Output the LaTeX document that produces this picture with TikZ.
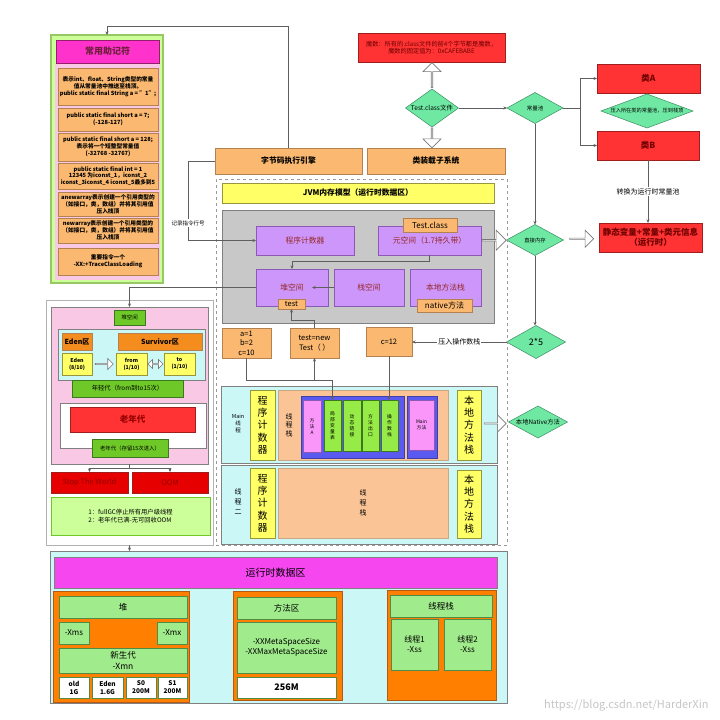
\documentclass[tikz,border=0pt]{standalone}
\usepackage{fontspec}
\setmainfont{Noto Sans CJK SC}
\usetikzlibrary{shapes.geometric,shapes.arrows,calc,arrows.meta}
\definecolor{orgL}{RGB}{250,184,112}
\definecolor{orgB}{RGB}{180,130,80}
\definecolor{redF}{RGB}{255,51,51}
\definecolor{redB}{RGB}{160,30,30}
\definecolor{redT}{RGB}{110,0,0}
\definecolor{diaF}{RGB}{110,232,162}
\definecolor{diaB}{RGB}{60,140,100}
\definecolor{purp}{RGB}{205,150,250}
\definecolor{purpB}{RGB}{140,90,180}
\definecolor{purpT}{RGB}{150,40,40}
\definecolor{grayF}{RGB}{200,200,200}
\definecolor{yel}{RGB}{255,255,102}
\definecolor{yelB}{RGB}{150,150,60}
\definecolor{magH}{RGB}{255,51,204}
\definecolor{magB}{RGB}{150,30,110}
\definecolor{titleT}{RGB}{110,30,60}
\definecolor{pinkL}{RGB}{248,200,228}
\definecolor{lgreen}{RGB}{204,255,153}
\definecolor{lgB}{RGB}{150,200,100}
\definecolor{cyanL}{RGB}{204,247,247}
\definecolor{peach}{RGB}{250,196,150}
\definecolor{blueM}{RGB}{90,90,240}
\definecolor{pinkM}{RGB}{250,150,250}
\definecolor{limeG}{RGB}{150,235,70}
\definecolor{orgS}{RGB}{245,140,30}
\definecolor{midG}{RGB}{110,200,40}
\definecolor{midGB}{RGB}{60,120,30}
\definecolor{orgD}{RGB}{255,128,0}
\definecolor{orgDB}{RGB}{180,90,20}
\definecolor{lgreen2}{RGB}{160,235,140}
\definecolor{lg2B}{RGB}{80,140,70}
\definecolor{magR}{RGB}{245,70,240}
\definecolor{lineC}{RGB}{95,95,95}
\definecolor{arrB}{RGB}{120,120,120}
\definecolor{stwF}{RGB}{230,0,0}
\definecolor{stwT}{RGB}{150,0,0}
\newcommand\fs[2]{\fontsize{#1}{#2}\selectfont}
\newcommand\mybox[7]{\node[bx,#2,minimum width=#5pt-#3pt,minimum height=#6pt-#4pt] (#1) at (#3,#4) {#7};}
\tikzset{
 bx/.style={draw, inner sep=0pt, outer sep=0pt, align=center, anchor=north west, line width=0.5pt},
 org/.style={fill=orgL, draw=orgB},
 redbox/.style={fill=redF, draw=redB, text=redT},
 purbox/.style={fill=purp, draw=purpB, text=purpT, font=\fs{7.8}{9}},
 yelbox/.style={fill=yel, draw=yelB},
 greenlab/.style={fill=midG, draw=midGB},
 g2/.style={fill=lgreen2, draw=lg2B},
 dia/.style={diamond, draw=diaB, fill=diaF, inner sep=0pt, outer sep=0pt, line width=0.5pt},
 con/.style={draw=lineC, line width=0.6pt, -{Stealth[length=3.5pt,width=3pt]}},
 barrow/.style={single arrow, draw=arrB, fill=white, inner sep=0pt, line width=0.6pt, single arrow head extend=3.5pt},
 dbarrow/.style={double arrow, draw=arrB, fill=white, inner sep=0pt, line width=0.6pt, double arrow head extend=2pt},
 lbl/.style={fill=white, inner sep=1pt},
 vt/.style={align=center, inner sep=0pt},
}
\begin{document}
\begin{tikzpicture}[x=1pt,y=-1pt]
\useasboundingbox (0,0) rectangle (720,720);
\fill[white] (0,0) rectangle (720,720);

% ---------- left column: mnemonics ----------
\mybox{mnOuter}{fill=lgreen, draw=lgB, line width=1.2pt}{51}{35}{163}{283}{}
\mybox{mnPink}{fill=pinkL, draw=none}{55}{64}{160}{280}{}
\mybox{mnHead}{fill=magH, draw=magB, text=titleT, font=\fs{9}{10}\bfseries}{56}{40}{159}{63}{常用助记符}
\begin{scope}[every node/.append style={font=\fs{5.7}{6.9}\bfseries}]
\mybox{m1}{org}{58}{68}{158}{105}{表示int、float、String类型的常量\\值从常量池中推送至栈顶。\\public static final String a = "1";}
\mybox{m2}{org}{58}{108}{158}{131}{public static final short a = 7;\\(-128-127)}
\mybox{m3}{org}{58}{133}{158}{161}{public static final short a = 128;\\表示将一个短整型常量值\\(-32768 -32767)}
\mybox{m4}{org}{58}{163}{158}{189}{public static final int = 1\\12345 为iconst\_1，iconst\_2\\iconst\_3iconst\_4 iconst\_5最多到5}
\mybox{m5}{org}{58}{192}{158}{216}{anewarray表示创建一个引用类型的\\（如接口，类，数组）并将其引用值\\压入栈顶}
\mybox{m6}{org}{58}{218}{158}{243}{newarray表示创建一个引用类型的\\（如接口，类，数组）并将其引用值\\压入栈顶}
\mybox{m7}{org}{58}{248}{158}{275}{重要指令一个\\-XX:+TraceClassLoading}
\end{scope}

% ---------- top: class file ----------
\mybox{magic}{redbox, font=\fs{6.2}{7.5}}{358}{33}{505}{62}{魔数：所有的.class文件的前4个字节都是魔数，\\魔数的固定值为：0xCAFEBABE}
\node[dia, minimum width=53pt, minimum height=38pt, label={center:{\fs{6.5}{7}Test.class文件}}] (tc) at (432,108) {};
\mybox{eng}{org, font=\fs{7.8}{9}\bfseries}{215}{148}{362}{174}{字节码执行引擎}
\mybox{loader}{org, font=\fs{7.8}{9}\bfseries}{367}{148}{505}{174}{类装载子系统}
\node[dia, minimum width=56pt, minimum height=31pt, label={center:{\fs{5.5}{6}常量池}}] (cp) at (535,108) {};
\mybox{A}{redbox, font=\fs{8.5}{10}\bfseries}{597}{64}{700}{93}{类A}
\node[dia, minimum width=92pt, minimum height=34pt, label={center:{\fs{5.2}{6}压入所在类的常量池，压到栈顶}}] (pushd) at (647,111) {};
\mybox{B}{redbox, font=\fs{8.5}{10}\bfseries}{597}{131}{699}{160}{类B}
\mybox{st}{redbox, font=\fs{8.5}{10.5}\bfseries}{599}{223}{702}{252}{静态变量+常量+类元信息\\（运行时）}
\node[dia, minimum width=57pt, minimum height=31pt, label={center:{\fs{5.3}{6}直接内存}}] (dm) at (535,240) {};
\node[dia, minimum width=59pt, minimum height=33pt, label={center:{\fs{9}{10}2*5}}] (d25) at (536,342) {};
\node[dia, minimum width=59pt, minimum height=32pt, label={center:{\fs{6.3}{7}本地Native方法}}] (nd) at (538,422) {};

% ---------- JVM memory model ----------
\mybox{jvm}{draw=gray!80, dashed, fill=none}{216}{179}{507}{545}{}
\mybox{jvmT}{yelbox, font=\fs{7.8}{9}\bfseries}{222}{183}{494}{203}{JVM内存模型（运行时数据区）}
\mybox{gbox}{fill=grayF, draw=gray}{222}{210}{494}{323}{}
\mybox{pc}{purbox}{256}{226}{354}{255}{程序计数器}
\mybox{meta}{purbox}{378}{226}{481}{255}{元空间（1.7持久带）}
\mybox{tcl}{org, font=\fs{8}{9}}{403}{218}{457}{232}{Test.class}
\mybox{heapS}{purbox}{256}{269}{328}{306}{堆空间}
\mybox{testL}{org, font=\fs{7.5}{8}}{278}{299}{305}{309}{test}
\mybox{stackS}{purbox}{334}{269}{404}{306}{栈空间}
\mybox{natS}{purbox}{410}{269}{481}{306}{本地方法栈}
\mybox{natL}{org, font=\fs{8}{9}}{417}{299}{472}{312}{native方法}
\mybox{ab}{org, font=\fs{7.5}{9.5}}{222}{328}{271}{358}{a=1\\b=2\\c=10}
\mybox{tn}{org, font=\fs{7.5}{9.5}}{290}{328}{339}{358}{test=new\\Test（ ）}
\mybox{c12}{org, font=\fs{7.5}{9}}{366}{327}{412}{356}{c=12}

% main thread
\mybox{mt}{fill=cyanL, draw=gray}{221}{386}{497}{463}{}
\node[vt, font=\fs{5.5}{7}] (mtL) at (238,424) {Main\\线\\程};
\mybox{mpc}{yelbox, font=\fs{10}{12.3}}{250}{390}{275}{460}{程\\序\\计\\数\\器}
\mybox{mts}{fill=peach, draw=orgB!70}{278}{390}{448}{460}{}
\node[vt, font=\fs{7}{8.6}] (mtsL) at (289,425) {线\\程\\栈};
\mybox{mblue}{fill=blueM, draw=blueM!70!black}{301}{396}{404}{458}{}
\begin{scope}[every node/.append style={font=\fs{4.8}{6}}]
\mybox{fA}{fill=pinkM, draw=purpB}{303}{400}{321}{452}{方\\法\\A}
\mybox{lv}{fill=limeG, draw=midGB}{324}{400}{341}{451}{局\\部\\变\\量\\表}
\mybox{dl}{fill=limeG, draw=midGB}{343}{400}{361}{451}{动\\态\\链\\接}
\mybox{mo}{fill=limeG, draw=midGB}{362}{400}{379}{451}{方\\法\\出\\口}
\mybox{ops}{fill=limeG, draw=midGB}{381}{400}{398}{451}{操\\作\\数\\栈}
\mybox{mblue2}{fill=blueM, draw=blueM!70!black}{407}{396}{437}{458}{}
\mybox{mm}{fill=pinkM, draw=purpB}{409}{400}{434}{450}{Main\\方法}
\end{scope}
\mybox{mnat}{yelbox, font=\fs{10}{12.3}}{457}{390}{481}{460}{本\\地\\方\\法\\栈}

% thread 2
\mybox{t2}{fill=cyanL, draw=gray}{221}{465}{497}{544}{}
\node[vt, font=\fs{7}{10}] (t2L) at (238,502) {线\\程\\二};
\mybox{t2pc}{yelbox, font=\fs{10}{12.3}}{250}{468}{275}{538}{程\\序\\计\\数\\器}
\mybox{t2s}{fill=peach, draw=orgB!70, font=\fs{7}{10}}{278}{468}{448}{538}{线\\程\\栈}
\mybox{t2nat}{yelbox, font=\fs{10}{12.3}}{457}{470}{481}{538}{本\\地\\方\\法\\栈}

% ---------- left heap panel ----------
\mybox{leftFrame}{draw=gray!60, fill=none}{46}{300}{213}{545}{}
\mybox{hp}{fill=pinkL, draw=gray}{51}{307}{208}{464}{}
\mybox{hpL}{greenlab, font=\fs{5.5}{6}}{114}{310}{145}{325}{堆空间}
\mybox{yg}{fill=cyanL, draw=gray}{58}{329}{205}{380}{}
\mybox{edenL}{fill=orgS, draw=orgB, font=\fs{7}{8}\bfseries}{62}{333}{92}{350}{Eden区}
\mybox{survL}{fill=orgS, draw=orgB, font=\fs{7}{8}\bfseries}{118}{333}{202}{350}{Survivor区}
\mybox{eden}{yelbox, font=\fs{5.3}{7}\bfseries}{62}{353}{92}{375}{Eden\\(8/10)}
\mybox{from}{yelbox, font=\fs{5.3}{7}\bfseries}{116}{353}{147}{375}{from\\(1/10)}
\mybox{to}{yelbox, font=\fs{5.3}{7}\bfseries}{164}{353}{195}{375}{to\\(1/10)}
\mybox{ygL}{greenlab, font=\fs{6.3}{7}}{72}{380}{183}{397}{年轻代（from到to15次）}
\mybox{old}{fill=white, draw=gray}{60}{403}{206}{448}{}
\mybox{oldR}{fill=redF, draw=redB, text=stwT, font=\fs{8.5}{9}\bfseries}{70}{407}{195}{432}{老年代}
\mybox{oldL}{greenlab, font=\fs{5.4}{6}}{92}{439}{168}{457}{老年代（存留15次进入）}
\mybox{stw}{fill=stwF, draw=redB, text=stwT, font=\fs{7.5}{8}}{51}{472}{128}{493}{Stop The World}
\mybox{oom}{fill=stwF, draw=redB, text=stwT, font=\fs{7.5}{8}}{132}{472}{208}{493}{OOM}
\mybox{note}{fill=lgreen, draw=midG, line width=0.8pt, font=\fs{6.3}{8.5}, align=left}{51}{497}{210}{535}{1：fullGC停止所有用户级线程\\2：老年代已满-无可回收OOM}

% ---------- bottom runtime data area ----------
\mybox{rt}{fill=cyanL, draw=gray}{50}{551}{507}{703}{}
\mybox{rtH}{fill=magR, draw=gray, font=\fs{10}{11}}{54}{557}{497}{588}{运行时数据区}
\mybox{heapO}{fill=orgD, draw=orgDB}{53}{591}{189}{702}{}
\mybox{heapT}{g2, font=\fs{8.5}{9}}{59}{596}{187}{618}{堆}
\mybox{xms}{g2, font=\fs{8}{9}}{59}{622}{89}{644}{-Xms}
\mybox{xmx}{g2, font=\fs{8}{9}}{157}{622}{187}{644}{-Xmx}
\mybox{xmn}{g2, font=\fs{8.5}{10.5}}{59}{648}{187}{673}{新生代\\-Xmn}
\mybox{sold}{fill=white, draw=lg2B, font=\fs{6.5}{8}\bfseries}{59}{677}{89}{698}{old\\1G}
\mybox{seden}{fill=white, draw=lg2B, font=\fs{6.5}{8}\bfseries}{92}{677}{123}{698}{Eden\\1.6G}
\mybox{ss0}{fill=white, draw=lg2B, font=\fs{6.5}{8}\bfseries}{126}{677}{156}{698}{S0\\200M}
\mybox{ss1}{fill=white, draw=lg2B, font=\fs{6.5}{8}\bfseries}{158}{677}{187}{698}{S1\\200M}
\mybox{maO}{fill=orgD, draw=orgDB}{233}{591}{342}{700}{}
\mybox{maT}{g2, font=\fs{8.5}{9}}{237}{597}{336}{619}{方法区}
\mybox{maX}{g2, font=\fs{8}{10.5}}{237}{622}{336}{673}{-XXMetaSpaceSize\\-XXMaxMetaSpaceSize}
\mybox{ma256}{fill=white, draw=lg2B, font=\fs{9}{10}\bfseries}{237}{677}{336}{698}{256M}
\mybox{thO}{fill=orgD, draw=orgDB}{387}{590}{496}{700}{}
\mybox{thT}{g2, font=\fs{8.5}{9}}{390}{595}{492}{617}{线程栈}
\mybox{th1}{g2, font=\fs{8}{10}}{391}{619}{438}{670}{线程1\\-Xss}
\mybox{th2}{g2, font=\fs{8}{10}}{444}{619}{491}{670}{线程2\\-Xss}

% ---------- connectors ----------
\coordinate (topy) at (0,26);
\draw[con] (eng.north) -- (eng.north |- topy) -| (mnOuter.north);
\draw[con] (eng.west) -- ++(-27,0) |- (pc.west);
\node[lbl, font=\fs{5.5}{6}] (recL) at (188,223) {记录指令行号};
\draw[con] (tc.east) -- (cp.west);
\draw[con] (cp.east) -- ++(17,0) |- (A.west);
\draw[con] (cp.east) -- ++(17,0) |- (B.west);
\draw[con] (B.south) -- (B.south |- st.north) node[midway, lbl, font=\fs{7}{8}] {转换为运行时常量池};
\draw[con] (cp.south) -- (cp.south |- dm.north);
\draw[con] (dm.south) -- (dm.south |- d25.north);
\draw[con] (d25.west) -- (d25.west -| c12.east) node[midway, lbl, font=\fs{7}{8}] {压入操作数栈};
\draw[con] (meta.south) -- ++(0,6) -| (heapS.north);
\draw[con] (stackS.west) -- ($(heapS.center)+(20,0)$);
\draw[con] (heapS.west) -| (hp.north);
\draw[con] (tn.north) -- ++(0,-8) -| (testL.south);
\draw[con] (ab.south) -- ++(0,22) -| (lv.north);
\draw[con] ($(tn.south)+(0,22)$) -- (tn.south);
\draw[con] (c12.south) -- (c12.south |- ops.north);
\draw[con] (hp.south) -- ++(0,4) -| (stw.north);
\draw[con] (hp.south) -- ++(0,4) -| (oom.north);
\draw[con] (leftFrame.south) -- (leftFrame.south |- rt.north);

% block arrows
\node[barrow, rotate=90, minimum height=25pt, minimum width=18pt] (ba1) at ($(tc.north)!0.5!(tc.north |- magic.south)$) {};
\node[barrow, rotate=-90, minimum height=20pt, minimum width=18pt] (ba2) at ($(tc.south)!0.5!(tc.south |- loader.north)$) {};
\node[barrow, minimum height=24pt, minimum width=20pt] (ba3) at ($(meta.east)!0.5!(dm.west)$) {};
\node[barrow, minimum height=24pt, minimum width=17pt] (ba4) at ($(dm.east)!0.5!(st.west)$) {};
\node[barrow, minimum height=22pt, minimum width=17pt] (ba5) at ($(mnat.east)!0.5!(nd.west)$) {};
\node[barrow, minimum height=18pt, minimum width=11pt, single arrow head extend=2.5pt] (ba6) at ($(eden.east)!0.5!(from.west)$) {};
\node[dbarrow, minimum height=15pt, minimum width=9pt] (ba7) at ($(from.east)!0.5!(to.west)$) {};

% watermark
\node[text=gray!45, font=\fs{11}{12}, anchor=east] (wm) at (712,705) {https://blog.csdn.net/HarderXin};
\end{tikzpicture}
\end{document}
